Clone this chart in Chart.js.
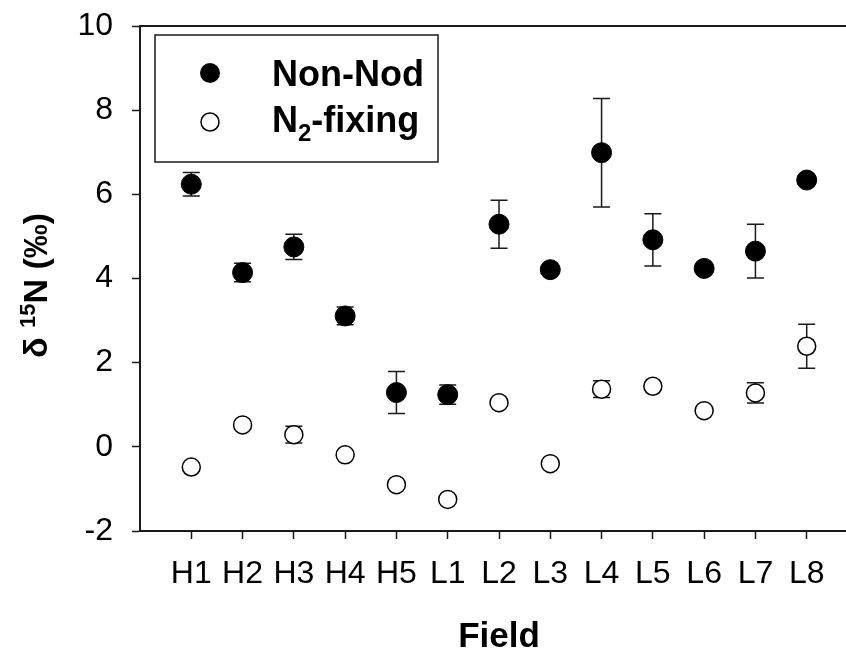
<!DOCTYPE html>
<html>
<head>
<meta charset="utf-8">
<script src="https://cdn.jsdelivr.net/npm/chart.js@4.4.0/dist/chart.umd.min.js"></script>
<style>
  html, body { margin: 0; padding: 0; background: #fff; overflow: hidden; }
  #wrap { width: 846px; height: 654px; overflow: hidden; }
</style>
</head>
<body>
<div id="wrap"><canvas id="chart" width="870" height="654"></canvas></div>
<script>
// Field labels along the x axis
const fields = ['H1', 'H2', 'H3', 'H4', 'H5', 'L1', 'L2', 'L3', 'L4', 'L5', 'L6', 'L7', 'L8'];

// delta 15N values (per mil) and their error bars
const nonNod = [6.24, 4.14, 4.75, 3.11, 1.29, 1.24, 5.29, 4.21, 6.99, 4.92, 4.24, 4.65, 6.34];
const nonNodErr = [0.28, 0.22, 0.30, 0.21, 0.50, 0.23, 0.57, 0, 1.29, 0.62, 0, 0.64, 0];
const nFix = [-0.48, 0.52, 0.29, -0.19, -0.90, -1.25, 1.05, -0.40, 1.37, 1.44, 0.86, 1.28, 2.39];
const nFixErr = [0, 0, 0.20, 0, 0, 0, 0, 0, 0.20, 0, 0, 0.24, 0.52];

const yTicks = [-2, 0, 2, 4, 6, 8, 10];

const FONT = '"Liberation Sans", Arial, sans-serif';
const INK = '#1a1a1a';

function toPoints(vals) {
    return vals.map((v, i) => ({ x: i + 1, y: v }));
}

// error bars, drawn under the markers
const errorBars = {
    id: 'errorBars',
    beforeDatasetsDraw(chart) {
        const ctx = chart.ctx;
        const xs = chart.scales.x, ys = chart.scales.y;
        ctx.save();
        ctx.strokeStyle = INK;
        ctx.lineWidth = 1.5;
        [[nonNod, nonNodErr], [nFix, nFixErr]].forEach(([vals, errs]) => {
            vals.forEach((v, i) => {
                if (!errs[i]) return;
                const px = xs.getPixelForValue(i + 1);
                const top = ys.getPixelForValue(v + errs[i]);
                const bot = ys.getPixelForValue(v - errs[i]);
                ctx.beginPath();
                ctx.moveTo(px, top); ctx.lineTo(px, bot);
                ctx.moveTo(px - 8.5, top); ctx.lineTo(px + 8.5, top);
                ctx.moveTo(px - 8.5, bot); ctx.lineTo(px + 8.5, bot);
                ctx.stroke();
            });
        });
        ctx.restore();
    }
};

// frame, legend box and axis titles
const decorations = {
    id: 'decorations',
    afterDraw(chart) {
        const ctx = chart.ctx;
        const a = chart.chartArea;
        ctx.save();

        // top/right frame line
        ctx.strokeStyle = INK;
        ctx.lineWidth = 2;
        ctx.beginPath();
        ctx.moveTo(a.left, a.top);
        ctx.lineTo(a.right, a.top);
        ctx.lineTo(a.right, a.bottom);
        ctx.stroke();

        // legend
        const lx = a.left + 15, ly = a.top + 9;
        ctx.lineWidth = 1.5;
        ctx.strokeRect(lx, ly, 283, 127);
        ctx.fillStyle = '#000';
        ctx.beginPath();
        ctx.arc(lx + 55, ly + 38, 10, 0, Math.PI * 2);
        ctx.fill();
        ctx.beginPath();
        ctx.arc(lx + 55, ly + 87, 9, 0, Math.PI * 2);
        ctx.fillStyle = '#fff';
        ctx.fill();
        ctx.strokeStyle = '#000';
        ctx.stroke();

        ctx.fillStyle = '#000';
        ctx.textBaseline = 'alphabetic';
        ctx.textAlign = 'left';
        ctx.font = 'bold 36px ' + FONT;
        let tx = lx + 117;
        ctx.fillText('Non-Nod', tx, ly + 51);
        ctx.fillText('N', tx, ly + 97);
        tx += ctx.measureText('N').width;
        ctx.font = 'bold 24px ' + FONT;
        ctx.fillText('2', tx, ly + 106);
        tx += ctx.measureText('2').width;
        ctx.font = 'bold 36px ' + FONT;
        ctx.fillText('-fixing', tx, ly + 97);

        // x title
        ctx.textAlign = 'center';
        ctx.font = 'bold 35px ' + FONT;
        ctx.fillText('Field', (a.left + a.right) / 2, 647);

        // y title, rotated, with superscript 15
        const parts = [
            { t: '\u03B4 ', f: 'bold 34px ' + FONT, dy: 0 },
            { t: '15', f: 'bold 22px ' + FONT, dy: -12 },
            { t: 'N (\u2030)', f: 'bold 34px ' + FONT, dy: 0 }
        ];
        let total = 0;
        parts.forEach(p => { ctx.font = p.f; p.w = ctx.measureText(p.t).width; total += p.w; });
        ctx.translate(47, (a.top + a.bottom) / 2 + 7);
        ctx.rotate(-Math.PI / 2);
        ctx.textAlign = 'left';
        let px = -total / 2;
        parts.forEach(p => {
            ctx.font = p.f;
            ctx.fillText(p.t, px, p.dy);
            px += p.w;
        });
        ctx.restore();
    }
};

const ctx = document.getElementById('chart').getContext('2d');
new Chart(ctx, {
    type: 'scatter',
    data: {
        datasets: [{
            label: 'Non-Nod',
            data: toPoints(nonNod),
            pointRadius: 10,
            pointBackgroundColor: '#000',
            pointBorderColor: '#000',
            pointBorderWidth: 1
        }, {
            label: 'N2-fixing',
            data: toPoints(nFix),
            pointRadius: 9,
            pointBackgroundColor: '#fff',
            pointBorderColor: '#000',
            pointBorderWidth: 1.5
        }]
    },
    options: {
        responsive: false,
        animation: false,
        devicePixelRatio: 1,
        layout: { padding: { top: 26, right: 12, left: 0, bottom: 0 } },
        plugins: {
            legend: { display: false },
            tooltip: { enabled: false }
        },
        scales: {
            x: {
                type: 'linear',
                min: 0,
                max: 14,
                afterBuildTicks: s => { s.ticks = fields.map((f, i) => ({ value: i + 1 })); },
                afterFit: s => { s.height = 123; s.paddingLeft = 0; s.paddingRight = 0; },
                grid: { drawOnChartArea: false, tickLength: 8, tickColor: INK, tickWidth: 1.5 },
                border: { color: INK, width: 2 },
                ticks: {
                    autoSkip: false,
                    maxRotation: 0,
                    padding: 16,
                    color: '#000',
                    font: { family: FONT, size: 32 },
                    callback: v => fields[v - 1] || ''
                }
            },
            y: {
                min: -2,
                max: 10,
                afterBuildTicks: s => { s.ticks = yTicks.map(v => ({ value: v })); },
                afterFit: s => { s.width = 140; s.paddingTop = 0; s.paddingBottom = 0; },
                grid: { drawOnChartArea: false, tickLength: 8, tickColor: INK, tickWidth: 1.5 },
                border: { color: INK, width: 2 },
                ticks: {
                    padding: 19,
                    color: '#000',
                    font: { family: FONT, size: 32 }
                }
            }
        }
    },
    plugins: [errorBars, decorations]
});
</script>
</body>
</html>
